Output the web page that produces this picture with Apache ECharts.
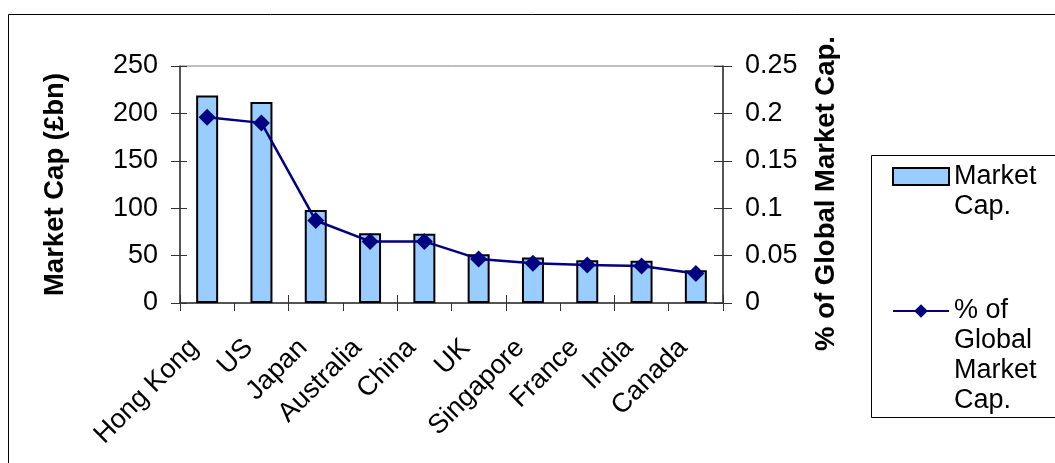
<!DOCTYPE html>
<html>
<head>
<meta charset="utf-8">
<script src="https://cdn.jsdelivr.net/npm/echarts@6/dist/echarts.min.js"></script>
<style>
  html, body { margin: 0; padding: 0; background: #fff; }
  #chart { width: 1055px; height: 463px; }
</style>
</head>
<body>
<div id="chart"></div>
<script>
// Market capitalisation by country, with each country's share of the global total
const countries = ['Hong Kong', 'US', 'Japan', 'Australia', 'China', 'UK', 'Singapore', 'France', 'India', 'Canada'];
const marketCap = [219, 212, 98, 73.5, 73, 51.5, 48, 45, 44.5, 34.5];
const globalShare = [0.196, 0.190, 0.087, 0.065, 0.065, 0.0465, 0.042, 0.040, 0.039, 0.031];
const capTicks = { min: 0, max: 250, interval: 50 };
const shareTicks = { min: 0, max: 0.25, interval: 0.05 };

const FONT = '"Liberation Sans", Arial, sans-serif';
const AXIS_COLOR = '#333';

const chart = echarts.init(document.getElementById('chart'), null, { renderer: 'canvas' });

const textBase = { color: '#000', fontFamily: FONT, fontSize: 27 };

// Legend text is centred on its symbol; pad with blank lines above so the
// symbol lines up with the first line of a wrapped name.
const topAlignedName = name => '\n'.repeat(name.split('\n').length - 1) + name;

const legendCommon = {
  orient: 'vertical', left: 892,
  itemWidth: 56, itemHeight: 17, itemGap: 0, padding: 0,
  formatter: topAlignedName,
  textStyle: Object.assign({}, textBase, { lineHeight: 30 })
};

chart.setOption({
  animation: false,
  backgroundColor: '#fff',
  grid: {
    left: 180, right: 332, top: 66, bottom: 160,
    show: true, borderColor: '#808080', borderWidth: 1,
    outerBoundsMode: 'none'
  },
  graphic: [
    // outer chart frame
    { type: 'rect', shape: { x: 8.5, y: 14.5, width: 1100, height: 500 },
      style: { fill: 'none', stroke: '#000', lineWidth: 1 }, silent: true, z: -10 },
    // legend frame
    { type: 'rect', shape: { x: 871.5, y: 155.5, width: 250, height: 262 },
      style: { fill: '#fff', stroke: '#000', lineWidth: 1 }, silent: true, z: -5 }
  ],
  legend: [
    Object.assign({}, legendCommon, { data: ['Market\nCap.'], top: 131.5, icon: 'rect' }),
    Object.assign({}, legendCommon, { data: ['% of\nGlobal\nMarket\nCap.'], top: 206 })
  ],
  xAxis: [
    {
      type: 'category', data: countries, position: 'bottom',
      axisLine: { show: true, lineStyle: { color: AXIS_COLOR, width: 1.5 } },
      axisTick: { show: true, inside: false, length: 8, lineStyle: { color: AXIS_COLOR, width: 1 } },
      axisLabel: Object.assign({}, textBase, { rotate: 45, margin: 28, interval: 0, padding: [0, 18, 0, 0] }),
      splitLine: { show: false }
    },
    {
      type: 'category', data: countries, position: 'bottom',
      axisLine: { show: false },
      axisTick: { show: true, inside: true, length: 8, lineStyle: { color: AXIS_COLOR, width: 1 } },
      axisLabel: { show: false },
      splitLine: { show: false }
    }
  ],
  yAxis: [
    {
      type: 'value', position: 'left',
      min: capTicks.min, max: capTicks.max, interval: capTicks.interval,
      name: 'Market Cap (£bn)', nameLocation: 'middle', nameGap: 111, nameRotate: 90,
      nameTextStyle: Object.assign({}, textBase, { fontWeight: 'bold', fontSize: 27.5 }),
      axisLine: { show: true, lineStyle: { color: AXIS_COLOR, width: 1.5 } },
      axisTick: { show: true, inside: false, length: 9, lineStyle: { color: AXIS_COLOR, width: 1 } },
      axisLabel: Object.assign({}, textBase, { margin: 22 }),
      splitLine: { show: false }
    },
    {
      type: 'value', position: 'right',
      min: shareTicks.min, max: shareTicks.max, interval: shareTicks.interval,
      name: '% of Global Market Cap.', nameLocation: 'middle', nameGap: 89, nameRotate: 90,
      nameTextStyle: Object.assign({}, textBase, { fontWeight: 'bold', fontSize: 27.5, padding: [0, 18, 0, 0] }),
      axisLine: { show: true, lineStyle: { color: AXIS_COLOR, width: 1.5 } },
      axisTick: { show: true, inside: false, length: 9, lineStyle: { color: AXIS_COLOR, width: 1 } },
      axisLabel: Object.assign({}, textBase, { margin: 22 }),
      splitLine: { show: false }
    },
    {
      type: 'value', position: 'left',
      min: capTicks.min, max: capTicks.max, interval: capTicks.interval,
      axisLine: { show: false },
      axisTick: { show: true, inside: true, length: 7, lineStyle: { color: AXIS_COLOR, width: 1 } },
      axisLabel: { show: false },
      splitLine: { show: false }
    },
    {
      type: 'value', position: 'right',
      min: shareTicks.min, max: shareTicks.max, interval: shareTicks.interval,
      axisLine: { show: false },
      axisTick: { show: true, inside: true, length: 9, lineStyle: { color: AXIS_COLOR, width: 1 } },
      axisLabel: { show: false },
      splitLine: { show: false }
    }
  ],
  series: [
    {
      name: 'Market\nCap.', type: 'bar', xAxisIndex: 0, yAxisIndex: 0,
      data: marketCap, barWidth: 22,
      itemStyle: { color: '#99CCFF', borderColor: '#000', borderWidth: 2 },
      z: 2
    },
    {
      name: '% of\nGlobal\nMarket\nCap.', type: 'line', xAxisIndex: 0, yAxisIndex: 1,
      data: globalShare,
      symbol: 'diamond', symbolSize: 17,
      lineStyle: { color: '#000080', width: 2.5 },
      itemStyle: { color: '#000080' },
      z: 3
    }
  ]
});
</script>
</body>
</html>
